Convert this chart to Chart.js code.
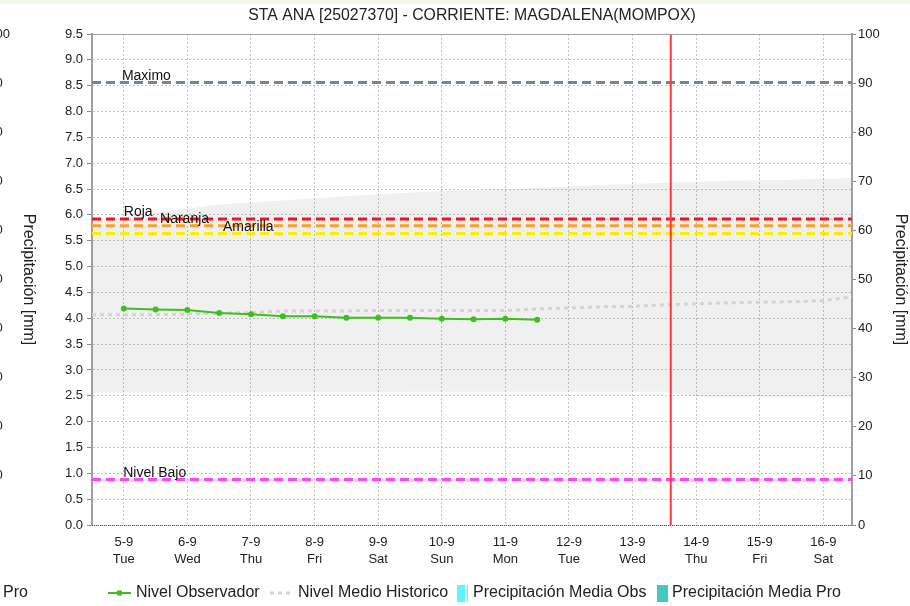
<!DOCTYPE html>
<html>
<head>
<meta charset="utf-8">
<title>STA ANA [25027370] - CORRIENTE: MAGDALENA(MOMPOX)</title>
<script src="https://cdn.jsdelivr.net/npm/chart.js@4.4.1/dist/chart.umd.min.js"></script>
<style>
  html, body { margin: 0; padding: 0; background: #fff; overflow: hidden; }
  #wrap { position: relative; width: 910px; height: 606px; }
  #wrap:before { content: ""; position: absolute; left: 0; top: 0; width: 910px; height: 4px; background: #f1f8ec; }
  canvas { display: block; }
</style>
</head>
<body>
<div id="wrap"><canvas id="nivel" width="910" height="606"></canvas></div>
<script>
  // ---- datos ---------------------------------------------------------------
  // eje x en dias del mes (9 = septiembre)
  const dayTicks = [5, 6, 7, 8, 9, 10, 11, 12, 13, 14, 15, 16];
  const dayDates = ["5-9", "6-9", "7-9", "8-9", "9-9", "10-9", "11-9", "12-9", "13-9", "14-9", "15-9", "16-9"];
  const dayNames = ["Tue", "Wed", "Thu", "Fri", "Sat", "Sun", "Mon", "Tue", "Wed", "Thu", "Fri", "Sat"];

  // nivel observado cada 12 h
  const obsTimes = [5, 5.5, 6, 6.5, 7, 7.5, 8, 8.5, 9, 9.5, 10, 10.5, 11, 11.5];
  const obsLevel = [4.19, 4.17, 4.16, 4.10, 4.08, 4.04, 4.04, 4.01, 4.01, 4.01, 3.99, 3.98, 3.99, 3.97];

  // historico: medio, maximo y minimo
  const histTimes = [4.5, 5, 5.5, 6, 6.5, 7, 7.5, 8, 8.5, 9, 9.5, 10, 10.5, 11, 11.5, 12, 12.5, 13, 13.5, 14, 14.5, 15, 15.5, 16, 16.5];
  const histMean = [4.07, 4.07, 4.07, 4.08, 4.10, 4.11, 4.14, 4.14, 4.14, 4.15, 4.15, 4.15, 4.15, 4.15, 4.18, 4.20, 4.22, 4.23, 4.26, 4.28, 4.30, 4.31, 4.32, 4.34, 4.42];
  const histMax = [5.93, 5.95, 6.05, 6.12, 6.20, 6.24, 6.28, 6.32, 6.36, 6.40, 6.43, 6.46, 6.48, 6.50, 6.52, 6.55, 6.58, 6.60, 6.62, 6.64, 6.66, 6.67, 6.68, 6.70, 6.71];
  const histMin = [2.56, 2.56, 2.56, 2.56, 2.56, 2.56, 2.57, 2.57, 2.57, 2.57, 2.58, 2.58, 2.58, 2.58, 2.58, 2.58, 2.58, 2.58, 2.58, 2.48, 2.48, 2.48, 2.48, 2.48, 2.48];

  // umbrales de alerta
  const umbralNames = ["Maximo", "Roja", "Naranja", "Amarilla", "Nivel Bajo"];
  const umbralLevels = [8.56, 5.92, 5.79, 5.64, 0.88];

  // corte entre observado y pronostico
  const corteTime = 13.6;

  // precipitacion (sin registros en el periodo)
  const precipObs = [];
  const precipPro = [];

  // ---- estilos ---------------------------------------------------------------
  const FONT = '"Liberation Sans", Arial, sans-serif';
  const GREEN = "#3fbf1f";
  const MEAN_GRAY = "#d3d3d3";
  const UMBRAL_COLORS = ["#7482a8", "#ff1010", "#ffa023", "#ffee00", "#ff44ff"];
  const UMBRAL_TEXT_X = [4.97, 5.0, 5.57, 6.56, 4.99]; // donde arranca cada rotulo (dias)
  const GRID = "#c4c4c4";
  const X_MIN = 4.5, X_MAX = 16.45;

  Chart.defaults.font.family = FONT;
  Chart.defaults.color = "#222";

  const pts = (xs, ys) => xs.map((x, i) => ({ x, y: ys[i] }));

  const umbralSets = umbralLevels.map((v, i) => ({
    label: umbralNames[i],
    data: [{ x: X_MIN, y: v }, { x: X_MAX, y: v }],
    borderColor: UMBRAL_COLORS[i],
    borderWidth: 3,
    borderDash: [9, 5],
    pointRadius: 0,
    order: 6,
  }));

  // ---- plugins de dibujo -----------------------------------------------------
  const titulo = {
    id: "titulo",
    afterDraw(chart) {
      const { ctx, chartArea } = chart;
      ctx.save();
      ctx.font = "15.8px " + FONT;
      ctx.fillStyle = "#222";
      ctx.textAlign = "center";
      ctx.textBaseline = "middle";
      ctx.fillText("STA ANA [25027370] - CORRIENTE: MAGDALENA(MOMPOX)", (chartArea.left + chartArea.right) / 2, 16);
      ctx.restore();
    },
  };

  const marco = {
    id: "marco",
    afterDatasetsDraw(chart) {
      const { ctx, chartArea, scales } = chart;
      ctx.save();
      // rotulos de umbrales
      ctx.font = "14px " + FONT;
      ctx.fillStyle = "#111";
      ctx.textAlign = "left";
      ctx.textBaseline = "alphabetic";
      umbralNames.forEach((n, i) => {
        ctx.fillText(n, scales.x.getPixelForValue(UMBRAL_TEXT_X[i]), scales.y.getPixelForValue(umbralLevels[i]) - 3);
      });
      // borde superior y eje inferior punteado
      ctx.strokeStyle = "#a0a0a0";
      ctx.lineWidth = 1;
      ctx.beginPath();
      ctx.moveTo(chartArea.left, chartArea.top + 0.5);
      ctx.lineTo(chartArea.right, chartArea.top + 0.5);
      ctx.stroke();
      ctx.strokeStyle = "#555";
      ctx.setLineDash([1, 1]);
      ctx.beginPath();
      ctx.moveTo(chartArea.left, chartArea.bottom + 0.5);
      ctx.lineTo(chartArea.right, chartArea.bottom + 0.5);
      ctx.stroke();
      ctx.restore();
    },
    afterDraw(chart) {
      const { ctx, scales } = chart;
      const ly = 593;
      ctx.save();
      // leyenda
      ctx.font = "16px " + FONT;
      ctx.textBaseline = "middle";
      ctx.textAlign = "left";
      ctx.fillStyle = "#222";

      ctx.strokeStyle = GREEN;
      ctx.lineWidth = 2;
      ctx.beginPath(); ctx.moveTo(108, ly); ctx.lineTo(131, ly); ctx.stroke();
      ctx.fillStyle = GREEN;
      ctx.fillRect(117, ly - 2.5, 5, 5);
      ctx.fillStyle = "#222";
      ctx.fillText("Nivel Observador", 136, ly);

      ctx.strokeStyle = MEAN_GRAY;
      ctx.lineWidth = 3;
      ctx.setLineDash([4, 4]);
      ctx.beginPath(); ctx.moveTo(270, ly); ctx.lineTo(293, ly); ctx.stroke();
      ctx.setLineDash([]);
      ctx.fillText("Nivel Medio Historico", 298, ly);

      ctx.fillStyle = "#5ff4ff";
      ctx.fillRect(457, ly - 8, 11, 17);
      ctx.fillStyle = "#d8feff";
      ctx.fillRect(465, ly - 8, 2, 17);
      ctx.fillStyle = "#222";
      ctx.fillText("Precipitación Media Obs", 473, ly);

      ctx.fillStyle = "#45c7c7";
      ctx.fillRect(657, ly - 8, 11, 17);
      ctx.fillStyle = "#222";
      ctx.fillText("Precipitación Media Pro", 672, ly);

      // borde del panel vecino (eje de precipitacion y leyenda)
      ctx.font = "13px " + FONT;
      for (let v = 0; v <= 100; v += 10) {
        ctx.fillText(String(v), -11.7, scales.y2.getPixelForValue(v));
      }
      ctx.font = "16px " + FONT;
      ctx.textAlign = "right";
      ctx.fillText("Precipitación Media Pro", 28, ly);
      ctx.translate(28, (scales.y2.top + scales.y2.bottom) / 2);
      ctx.rotate(Math.PI / 2);
      ctx.textAlign = "center";
      ctx.fillText("Precipitación [mm]", 0, 0);
      ctx.restore();
    },
  };

  // ---- grafica ---------------------------------------------------------------
  new Chart(document.getElementById("nivel"), {
    type: "line",
    data: {
      datasets: [
        {
          label: "Nivel Observador",
          data: pts(obsTimes, obsLevel),
          borderColor: GREEN,
          backgroundColor: GREEN,
          borderWidth: 2,
          pointRadius: 3,
          pointBorderWidth: 0,
          order: 2,
        },
        {
          label: "Corte",
          data: [{ x: corteTime, y: 0 }, { x: corteTime, y: 9.5 }],
          borderColor: "#ff3838",
          borderWidth: 2,
          pointRadius: 0,
          order: 1,
        },
        ...umbralSets,
        {
          label: "Nivel Medio Historico",
          data: pts(histTimes, histMean),
          borderColor: MEAN_GRAY,
          borderWidth: 3,
          borderDash: [4, 4],
          pointRadius: 0,
          order: 8,
        },
        {
          label: "Minimo Historico",
          data: pts(histTimes, histMin),
          borderWidth: 0,
          pointRadius: 0,
          fill: false,
          order: 11,
        },
        {
          label: "Maximo Historico",
          data: pts(histTimes, histMax),
          borderWidth: 0,
          pointRadius: 0,
          backgroundColor: "rgba(120,120,120,0.115)",
          fill: "-1",
          order: 10,
        },
        { type: "bar", label: "Precipitación Media Obs", data: precipObs, yAxisID: "y2", backgroundColor: "#5ff4ff" },
        { type: "bar", label: "Precipitación Media Pro", data: precipPro, yAxisID: "y2", backgroundColor: "#45c7c7" },
      ],
    },
    options: {
      responsive: false,
      animation: false,
      layout: { padding: { left: 40, right: 0, top: 34, bottom: 31 } },
      plugins: { legend: { display: false }, tooltip: { enabled: false }, title: { display: false } },
      scales: {
        x: {
          type: "linear",
          min: X_MIN,
          max: X_MAX,
          offset: false,
          afterBuildTicks: (s) => { s.ticks = dayTicks.map((v) => ({ value: v })); },
          ticks: {
            autoSkip: false,
            maxRotation: 0,
            padding: 9,
            font: { size: 13, lineHeight: 1.3 },
            callback: (v, i) => [dayDates[i], dayNames[i]],
          },
          grid: { color: GRID, lineWidth: 1, drawTicks: false, offset: false },
          border: { display: false, dash: [2, 2] },
          afterFit: (s) => { s.height = 50; },
        },
        y: {
          min: 0,
          max: 9.5,
          ticks: { stepSize: 0.5, padding: 4, font: { size: 13 }, callback: (v) => v.toFixed(1) },
          grid: { color: GRID, tickColor: "#888", tickLength: 5 },
          border: { color: "#a0a0a0", width: 2, dash: [2, 2] },
          afterFit: (s) => { s.width = 52; },
        },
        y2: {
          position: "right",
          min: 0,
          max: 100,
          ticks: { stepSize: 10, padding: 2, font: { size: 13 } },
          grid: { drawOnChartArea: false, tickColor: "#888", tickLength: 4 },
          border: { color: "#a0a0a0", width: 2 },
          title: { display: true, text: "Precipitación [mm]", font: { size: 16 }, padding: { top: 0, bottom: 2 } },
          afterFit: (s) => { s.width = 58; },
        },
      },
    },
    plugins: [titulo, marco],
  });
</script>
</body>
</html>
